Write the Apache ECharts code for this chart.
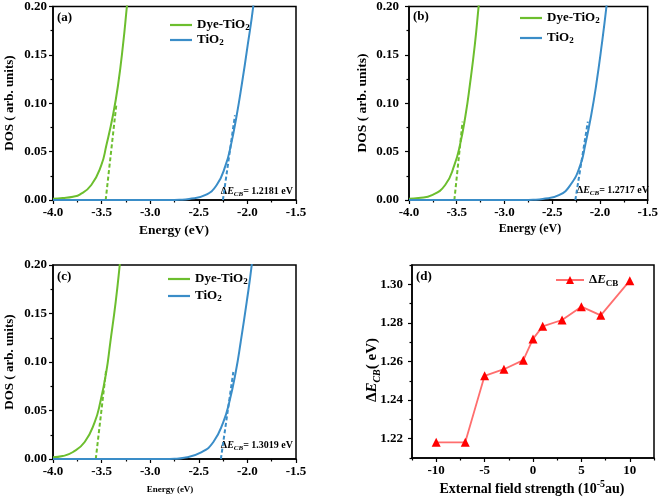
<!DOCTYPE html>
<html><head><meta charset="utf-8">
<script src="https://cdn.jsdelivr.net/npm/echarts@6/dist/echarts.min.js"></script>
<style>html,body{margin:0;padding:0;background:#fff}#c{width:661px;height:499px}</style>
</head><body><div id="c"></div>
<script>
// ---------- data ----------
const energyTicks = [-4.0, -3.5, -3.0, -2.5, -2.0, -1.5];
const dosTicks = [0.00, 0.05, 0.10, 0.15, 0.20];
// panel (a)
const dyeA = [[-4.0,0.0012],[-3.9,0.002],[-3.794,0.0034],[-3.725,0.0055],[-3.606,0.0155],[-3.503,0.036],[-3.452,0.056],[-3.383,0.0876],[-3.331,0.1186],[-3.28,0.16],[-3.239,0.201],[-3.2,0.24]];
const tio2A = [[-4.0,0],[-3.2,0],[-2.8,0],[-2.7,0.0002],[-2.6,0.001],[-2.436,0.005],[-2.316,0.0155],[-2.224,0.036],[-2.169,0.057],[-2.11,0.0876],[-2.059,0.1186],[-1.997,0.16],[-1.939,0.201],[-1.9,0.24]];
const dyeTanA = [[-3.458,0],[-3.349,0.098]];
const tio2TanA = [[-2.252,0],[-2.128,0.0876]];
// panel (b)
const dyeB = [[-4.0,0.0012],[-3.9,0.002],[-3.759,0.005],[-3.621,0.0155],[-3.525,0.036],[-3.466,0.057],[-3.408,0.0876],[-3.363,0.1186],[-3.311,0.16],[-3.27,0.201],[-3.23,0.24]];
const tio2B = [[-4.0,0],[-3.2,0],[-2.8,0],[-2.7,0.0002],[-2.6,0.001],[-2.43,0.005],[-2.31,0.0155],[-2.206,0.036],[-2.154,0.057],[-2.092,0.0876],[-2.04,0.1186],[-1.982,0.16],[-1.931,0.201],[-1.89,0.24]];
const dyeTanB = [[-3.525,0],[-3.439,0.081]];
const tio2TanB = [[-2.258,0],[-2.127,0.081]];
// panel (c)
const dyeC = [[-4.0,0.0018],[-3.9,0.003],[-3.794,0.0072],[-3.674,0.0175],[-3.571,0.0381],[-3.513,0.0588],[-3.452,0.0897],[-3.41,0.1206],[-3.355,0.162],[-3.314,0.1995],[-3.28,0.235]];
const tio2C = [[-4.0,0],[-3.2,0],[-2.85,0],[-2.75,0.0002],[-2.65,0.0012],[-2.47,0.0072],[-2.35,0.0175],[-2.248,0.0381],[-2.186,0.0588],[-2.12,0.0897],[-2.069,0.1206],[-2.007,0.162],[-1.956,0.1995],[-1.92,0.235]];
const dyeTanC = [[-3.56,0],[-3.452,0.093]];
const tio2TanC = [[-2.273,0],[-2.145,0.0897]];
// panel (d)
const fieldStrength = [-10, -7, -5, -3, -1, 0, 1, 3, 5, 7, 10];
const deltaECB = [1.2181, 1.2181, 1.2526, 1.2560, 1.2607, 1.2717, 1.2782, 1.2815, 1.2884, 1.2839, 1.3019];
const fieldTicks = [-10, -5, 0, 5, 10];
const fieldMinorTicks = [-12.5, -7.5, -2.5, 2.5, 7.5, 12.5];
const deltaTicks = [1.22, 1.24, 1.26, 1.28, 1.30];
const deltaMinorTicks = [1.21, 1.23, 1.25, 1.27, 1.29, 1.31];
const annotations = ['1.2181', '1.2717', '1.3019'];

// ---------- style ----------
const FF = "'Liberation Serif','Times New Roman',serif";
const GREEN = '#6CBE2E', BLUE = '#3A8DC8', RED = '#FF0000', PINK = '#FF6E6E';
const grids = [
  {left:53, top:6, width:243, height:194},
  {left:409, top:6, width:242, height:194},
  {left:53, top:265, width:243, height:194},
  {left:412, top:265, width:242, height:193}
].map(g => Object.assign(g, {show:true, borderColor:'#000', borderWidth:1.5, backgroundColor:'transparent'}));

const lineAx = {show:true, onZero:false, lineStyle:{color:'#000', width:1.5}};
const tickSty = {color:'#000', width:1.2};
function lbl(fs, margin, fmt){ return {fontFamily:FF, fontWeight:'bold', fontSize:fs, color:'#000', margin:margin, formatter:fmt}; }

const xAxes = [], yAxes = [], series = [];
const panels = [
  {dye:dyeA, tio2:tio2A, dt:dyeTanA, tt:tio2TanA, ym:6},
  {dye:dyeB, tio2:tio2B, dt:dyeTanB, tt:tio2TanB, ym:10},
  {dye:dyeC, tio2:tio2C, dt:dyeTanC, tt:tio2TanC, ym:6}
];
panels.forEach((p, i) => {
  xAxes.push({gridIndex:i, type:'value', min:energyTicks[0], max:energyTicks[energyTicks.length-1], interval:0.5,
    axisLine:lineAx, axisTick:{show:true, length:4, lineStyle:tickSty},
    minorTick:{show:true, splitNumber:2, length:2.5, lineStyle:tickSty},
    axisLabel:lbl(13, 6, v => v.toFixed(1)), splitLine:{show:false}, minorSplitLine:{show:false}});
  yAxes.push({gridIndex:i, type:'value', min:dosTicks[0], max:dosTicks[dosTicks.length-1], interval:0.05,
    axisLine:lineAx, axisTick:{show:true, length:4, lineStyle:tickSty},
    minorTick:{show:true, splitNumber:2, length:2.5, lineStyle:tickSty},
    axisLabel:lbl(13, p.ym, v => v.toFixed(2)), splitLine:{show:false}, minorSplitLine:{show:false}});
  const base = {type:'line', xAxisIndex:i, yAxisIndex:i, symbol:'none', smooth:0.5, clip:true, animation:false};
  series.push(Object.assign({}, base, {name:'TiO2', data:p.tio2, lineStyle:{color:BLUE, width:2}, itemStyle:{color:BLUE}, z:3}));
  series.push(Object.assign({}, base, {name:'Dye-TiO2', data:p.dye, lineStyle:{color:GREEN, width:2}, itemStyle:{color:GREEN}, z:2}));
  series.push(Object.assign({}, base, {name:'dyeTan'+i, smooth:false, data:p.dt, lineStyle:{color:GREEN, width:2, type:[4,2.5]}, z:2}));
  series.push(Object.assign({}, base, {name:'tioTan'+i, smooth:false, data:p.tt, lineStyle:{color:BLUE, width:2, type:[4,2.5]}, z:2}));
});
// panel (d)
xAxes.push({gridIndex:3, type:'value', min:-12.5, max:12.5,
  axisLine:lineAx, axisTick:{show:true, length:4, lineStyle:tickSty, customValues:fieldTicks},
  axisLabel:Object.assign(lbl(13, 6, v => String(v)), {customValues:fieldTicks}), splitLine:{show:false}});
yAxes.push({gridIndex:3, type:'value', min:1.21, max:1.31,
  axisLine:lineAx, axisTick:{show:true, length:4, lineStyle:tickSty, customValues:deltaTicks},
  axisLabel:Object.assign(lbl(13, 9, v => v.toFixed(2)), {customValues:deltaTicks}), splitLine:{show:false}});
xAxes.push({gridIndex:3, type:'value', min:-12.5, max:12.5, position:'bottom',
  axisLine:{show:false, onZero:false}, axisTick:{show:true, length:2.5, lineStyle:tickSty, customValues:fieldMinorTicks},
  axisLabel:{show:false}, splitLine:{show:false}});
yAxes.push({gridIndex:3, type:'value', min:1.21, max:1.31, position:'left',
  axisLine:{show:false, onZero:false}, axisTick:{show:true, length:2.5, lineStyle:tickSty, customValues:deltaMinorTicks},
  axisLabel:{show:false}, splitLine:{show:false}});
series.push({type:'line', name:'dECB', xAxisIndex:3, yAxisIndex:3, animation:false,
  data: fieldStrength.map((x, k) => [x, deltaECB[k]]),
  symbol:'triangle', symbolSize:9, itemStyle:{color:RED}, lineStyle:{color:PINK, width:1.8}});

// ---------- legends ----------
const subRich = {
  s:{fontFamily:FF, fontWeight:'bold', fontSize:9, lineHeight:9, verticalAlign:'bottom', color:'#000'}
};
function dosLegendItem(left, top, name){
  return {left:left, top:top, itemWidth:22, itemHeight:2.2,
    data:[{name:name, icon:'rect'}], selectedMode:false,
    textStyle:{fontFamily:FF, fontWeight:'bold', fontSize:13, color:'#000', lineHeight:14, rich:subRich},
    formatter: n => n === 'Dye-TiO2' ? 'Dye-TiO{s|2}' : 'TiO{s|2}'};
}
const legends = [
  dosLegendItem(165, 13, 'Dye-TiO2'), dosLegendItem(165, 28, 'TiO2'),
  dosLegendItem(515, 6, 'Dye-TiO2'), dosLegendItem(515, 26, 'TiO2'),
  dosLegendItem(163, 267, 'Dye-TiO2'), dosLegendItem(163, 284, 'TiO2'),
  {left:550, top:267, itemWidth:28, itemHeight:10, data:['dECB'], selectedMode:false,
   textStyle:{fontFamily:FF, fontWeight:'bold', fontSize:13, color:'#000', lineHeight:16,
     rich:{d:{fontFamily:FF, fontWeight:'bold', fontSize:13, color:'#000'},
           e:{fontFamily:FF, fontWeight:'bold', fontStyle:'italic', fontSize:13, color:'#000'},
           s:{fontFamily:FF, fontWeight:'bold', fontSize:9, lineHeight:9, verticalAlign:'bottom', color:'#000'}}},
   formatter: () => '{d|Δ}{e|E}{s|CB}'}
];

// ---------- texts ----------
function txt(x, y, text, fs, opts){
  return Object.assign({type:'text', x:x, y:y, silent:true,
    style:Object.assign({text:text, fill:'#000', fontFamily:FF, fontWeight:'bold', fontSize:fs, align:'left', verticalAlign:'middle'}, (opts||{}).style||{})},
    (opts||{}).el||{});
}
function annRich(fs){
  return {
    n:{fontFamily:FF, fontWeight:'bold', fontSize:fs, fill:'#000', lineHeight:14},
    i:{fontFamily:FF, fontWeight:'bold', fontStyle:'italic', fontSize:fs, fill:'#000', lineHeight:14},
    s:{fontFamily:FF, fontWeight:'bold', fontStyle:'italic', fontSize:fs*0.7, fill:'#000', lineHeight:fs*0.7, verticalAlign:'bottom'}
  };
}
const graphics = [
  txt(57, 18, '(a)', 13), txt(413, 17, '(b)', 13), txt(57, 277, '(c)', 13), txt(416, 277, '(d)', 13),
  txt(293, 191, '{n|Δ}{i|E}{s|CB}{n|= ' + annotations[0] + ' eV}', 10, {style:{align:'right', rich:annRich(10)}}),
  txt(649, 190, '{n|Δ}{i|E}{s|CB}{n|= ' + annotations[1] + ' eV}', 10, {style:{align:'right', rich:annRich(10)}}),
  txt(293, 445, '{n|Δ}{i|E}{s|CB}{n|= ' + annotations[2] + ' eV}', 10, {style:{align:'right', rich:annRich(10)}}),
  // axis titles
  txt(10, 103, 'DOS ( arb. units)', 13, {style:{align:'center'}, el:{rotation:Math.PI/2}}),
  txt(363, 103, 'DOS ( arb. units)', 13.5, {style:{align:'center'}, el:{rotation:Math.PI/2}}),
  txt(10, 362, 'DOS ( arb. units)', 13, {style:{align:'center'}, el:{rotation:Math.PI/2}}),
  txt(174, 231, 'Energy (eV)', 13.5, {style:{align:'center'}}),
  txt(530, 229, 'Energy (eV)', 12, {style:{align:'center'}}),
  txt(170, 490, 'Energy (eV)', 9, {style:{align:'center'}}),
  txt(532, 489, '{n|External field strength (10}{p|-5}{n|au)}', 14, {style:{align:'center', rich:{
    n:{fontFamily:FF, fontWeight:'bold', fontSize:14, fill:'#000', lineHeight:20},
    p:{fontFamily:FF, fontWeight:'bold', fontSize:10, fill:'#000', lineHeight:10, verticalAlign:'top'}}}}),
  txt(372, 370, '{n|Δ}{i|E}{s|CB}{n|( eV)}', 15, {style:{align:'center', rich:{
    n:{fontFamily:FF, fontWeight:'bold', fontSize:15, fill:'#000', lineHeight:20},
    i:{fontFamily:FF, fontWeight:'bold', fontStyle:'italic', fontSize:15, fill:'#000', lineHeight:20},
    s:{fontFamily:FF, fontWeight:'bold', fontStyle:'italic', fontSize:10, fill:'#000', lineHeight:10, verticalAlign:'bottom'}}}, el:{rotation:Math.PI/2}})
];

const chart = echarts.init(document.getElementById('c'), null, {renderer:'canvas'});
chart.setOption({
  animation:false, backgroundColor:'#fff',
  grid:grids, xAxis:xAxes, yAxis:yAxes, series:series, legend:legends, graphic:graphics
});
</script></body></html>
